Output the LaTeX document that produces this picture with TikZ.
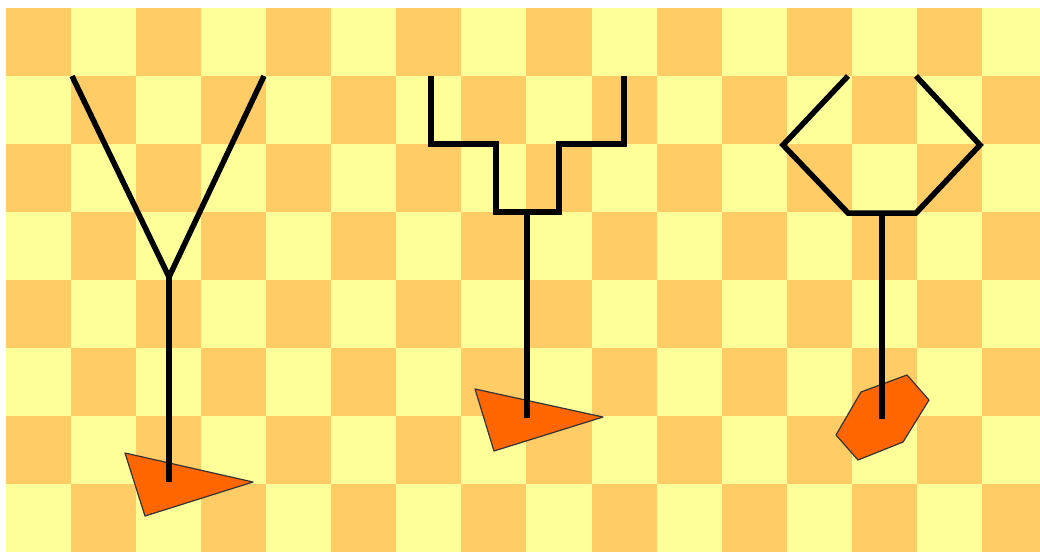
\documentclass[tikz,border=0pt]{standalone}
\definecolor{cellA}{HTML}{FFCC66}
\definecolor{cellB}{HTML}{FFFF99}
\definecolor{blob}{HTML}{FF6600}
\begin{document}
\begin{tikzpicture}[x=1pt,y=-1pt,
  wire/.style={line width=5.5pt, draw=black},
  blobstyle/.style={fill=blob, draw=black!80, line width=1.2pt, line join=round}]
\useasboundingbox (0,0) rectangle (1040,552);
% board
\begin{scope}
\clip (5.6,8) rectangle (1040,552);
\fill[cellB] (5.6,8) rectangle (1040,552);
\foreach \i in {0,...,15}{
  \foreach \j in {0,...,7}{
    \pgfmathtruncatemacro\cellpar{mod(\i+\j,2)}
    \ifnum\cellpar=0
      \fill[cellA] ({5.6+65.1*\i},{8+68*\j}) rectangle ({5.6+65.1*(\i+1)},{8+68*(\j+1)});
    \fi
  }
}
\end{scope}
% orange shapes
\draw[blobstyle] (125,453) -- (253,482) -- (145,516) -- cycle;
\draw[blobstyle] (475,389) -- (603,417) -- (494,451) -- cycle;
\draw[blobstyle] (861,392) -- (907,375) -- (929,400) -- (903,442) -- (858,460) -- (836,435) -- cycle;
% Y shape
\coordinate (y1) at (72,76);
\coordinate (yj) at (169,277);
\coordinate (y2) at (264,76);
\coordinate (ye) at (169,482);
\draw[wire] (y1) -- (yj) -- (y2);
\draw[wire] (yj) -- (ye);
% fork shape
\draw[wire] (431,76) -- (431,144) -- (496,144) -- (496,212) -- (559,212) -- (559,144) -- (624,144) -- (624,76);
\coordinate (fj) at (527,212);
\coordinate (fe) at (527,418);
\draw[wire] (fj) -- (fe);
% hexagon shape
\draw[wire] (848,76) -- (783,145) -- (848,213) -- (916,213) -- (980,145) -- (916,76);
\coordinate (hj) at (882,213);
\coordinate (he) at (882,419);
\draw[wire] (hj) -- (he);
\end{tikzpicture}
\end{document}
